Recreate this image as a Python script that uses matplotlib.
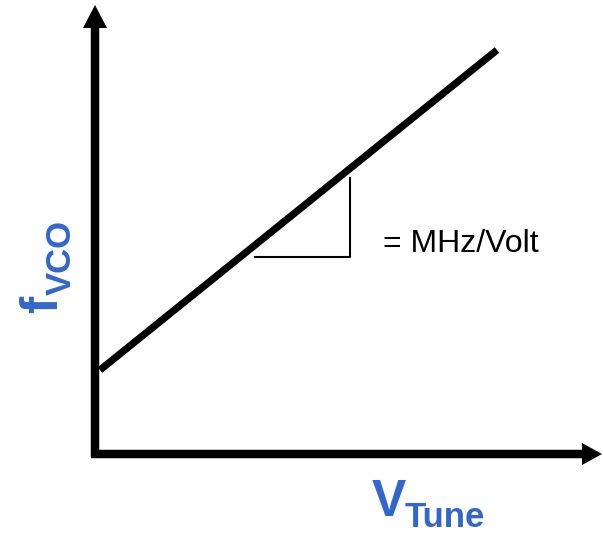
import matplotlib.pyplot as plt

# schematic units: 1 unit = 10 px, origin at the axis corner
tune_v = [0.5, 40.2]          # V_Tune at the ends of the tuning line
f_vco = [8.4, 40.4]           # f_VCO at the ends of the tuning line
slope_x = [16.0, 25.5, 25.5]  # slope triangle: horizontal then vertical leg
slope_y = [19.7, 19.7, 27.6]
slope_label = "= MHz/Volt"
x_label = ("V", "Tune")
y_label = ("f", "VCO")

BLUE = "#3366CC"
FONT = "Liberation Sans"


def draw_chart():
    fig = plt.figure(figsize=(6.03, 5.36), dpi=100)
    ax = fig.add_axes([0, 0, 1, 1])
    ax.set_xlim(-9.5, 50.8)
    ax.set_ylim(-8.2, 45.4)
    ax.axis("off")

    # axes with arrow heads
    ax.arrow(0, -0.3, 0, 45.2, width=0.85, head_width=2.4, head_length=2.3,
             length_includes_head=True, color="black", lw=0)
    ax.arrow(-0.4, 0, 51.1, 0, width=0.85, head_width=2.2, head_length=2.0,
             length_includes_head=True, color="black", lw=0)

    # tuning line and slope triangle
    ax.plot(tune_v, f_vco, color="black", lw=5.2, solid_capstyle="butt")
    ax.plot(slope_x, slope_y, color="black", lw=1.5)
    ax.text(28.8, 20.2, slope_label, fontsize=23, family=FONT,
            ha="left", va="baseline")

    # axis labels
    ax.text(27.7, -6.2, x_label[0], fontsize=37, family=FONT, weight="bold",
            color=BLUE, ha="left", va="baseline")
    ax.text(31.0, -7.3, x_label[1], fontsize=25, family=FONT, weight="bold",
            color=BLUE, ha="left", va="baseline")
    ax.text(-3.8, 14.1, y_label[0], fontsize=37, family=FONT, weight="bold",
            color=BLUE, ha="left", va="baseline", rotation=90,
            rotation_mode="anchor")
    ax.text(-2.4, 15.9, y_label[1], fontsize=25, family=FONT, weight="bold",
            color=BLUE, ha="left", va="baseline", rotation=90,
            rotation_mode="anchor")

    fig.savefig("out.png", dpi=100)
    plt.close(fig)


if __name__ == "__main__":
    draw_chart()
